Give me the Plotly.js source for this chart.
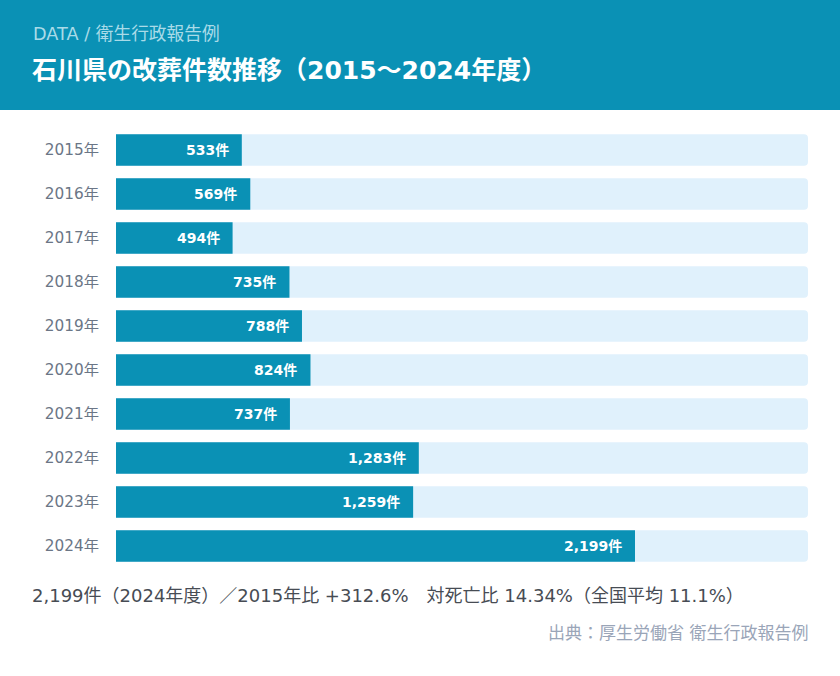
<!DOCTYPE html>
<html><head><meta charset="utf-8">
<script src="https://cdn.plot.ly/plotly-3.0.1.min.js"></script>
<style>html,body{margin:0;padding:0;background:#fff}#c{width:840px;height:676px}</style>
</head><body><div id="c"></div>
<script>
const years = ['2015','2016','2017','2018','2019','2020','2021','2022','2023','2024'];
const counts = [533, 569, 494, 735, 788, 824, 737, 1283, 1259, 2199];
const axisMax = 2932;
const subtitle = 'DATA / 衛生行政報告例';
const title = '石川県の改葬件数推移（2015〜2024年度）';
const summary = '2,199件（2024年度）／2015年比 +312.6%　対死亡比 14.34%（全国平均 11.1%）';
const source = '出典：厚生労働省 衛生行政報告例';

const W = 840, H = 676, M = {l:116, r:32, t:128, b:108};
const PW = W - M.l - M.r, PH = H - M.t - M.b;
const px = x => (x - M.l) / PW;
const py = y => (H - M.b - y) / PH;
const FONT = '"DejaVu Sans", "Noto Sans CJK JP", sans-serif';
const labels = years.map(y => y + '年');

const track = {
  type:'bar', orientation:'h', y: labels, x: labels.map(() => axisMax),
  marker:{color:'#e0f1fc'}, hoverinfo:'skip', showlegend:false
};
const bars = {
  type:'bar', orientation:'h', y: labels, x: counts,
  marker:{color:'#0a91b5'}, showlegend:false
};
const valueAnns = counts.map((v, i) => ({
  x: v, y: labels[i], xref:'x', yref:'y', xanchor:'right', yanchor:'middle',
  xshift:-11, showarrow:false, text: v.toLocaleString('en-US') + '件',
  font:{family:FONT, size:14, color:'#fff', weight:'bold'}
}));
const textAnns = [
  {x:px(31), y:py(34), text:subtitle, font:{family:FONT, size:17.7, color:'#a9dbe8'}},
  {x:px(30), y:py(70), text:'<b>'+title+'</b>', font:{family:FONT, size:25, color:'#ffffff'}},
  {x:px(30), y:py(595), text:summary, font:{family:FONT, size:18, color:'#474c54'}},
].map(a => Object.assign({xref:'paper', yref:'paper', xanchor:'left', yanchor:'middle', showarrow:false}, a));
textAnns.push({x:px(810), y:py(633), xref:'paper', yref:'paper', xanchor:'right', yanchor:'middle',
  showarrow:false, text:source, font:{family:FONT, size:17, color:'#9aa5b8'}});

const layout = {
  width:W, height:H, margin:M, paper_bgcolor:'#fff', plot_bgcolor:'#fff',
  barmode:'overlay', bargap:0.28, barcornerradius:4,
  xaxis:{range:[0, axisMax], visible:false, fixedrange:true},
  yaxis:{autorange:'reversed', showgrid:false, zeroline:false, showline:false,
    ticks:'outside', ticklen:13, tickcolor:'rgba(0,0,0,0)',
    tickfont:{family:FONT, size:15.3, color:'#6b7686'}},
  shapes:[{type:'rect', xref:'paper', yref:'paper', x0:px(0), x1:px(W), y0:py(110), y1:py(0),
    fillcolor:'#0a91b5', line:{width:0}, layer:'below'}],
  annotations: valueAnns.concat(textAnns),
  font:{family:FONT}
};
Plotly.newPlot('c', [track, bars], layout, {displayModeBar:false, staticPlot:true});
</script></body></html>
